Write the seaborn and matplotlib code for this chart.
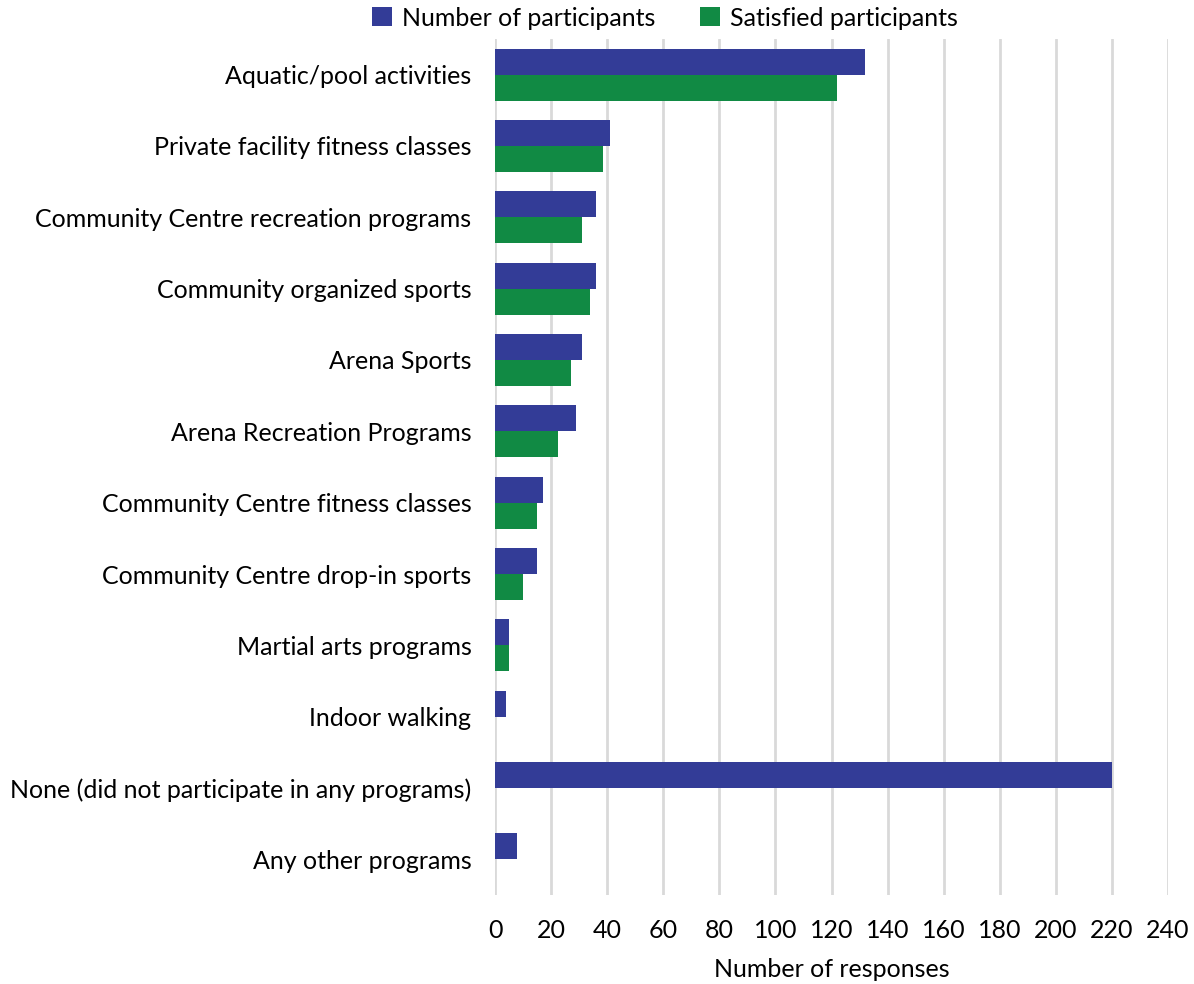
import matplotlib
matplotlib.use("Agg")
import matplotlib.pyplot as plt
import seaborn as sns
import pandas as pd

categories = [
    "Aquatic/pool activities",
    "Private facility fitness classes",
    "Community Centre recreation programs",
    "Community organized sports",
    "Arena Sports",
    "Arena Recreation Programs",
    "Community Centre fitness classes",
    "Community Centre drop-in sports",
    "Martial arts programs",
    "Indoor walking",
    "None (did not participate in any programs)",
    "Any other programs",
]
participants = [132, 41, 36, 36, 31, 29, 17, 15, 5, 4, 220, 8]
satisfied = [122, 38.5, 31, 34, 27, 22.5, 15, 10, 5, 0, 0, 0]
series_names = ["Number of participants", "Satisfied participants"]
x_ticks = list(range(0, 241, 20))

df = pd.DataFrame({
    "Activity": categories * 2,
    "Responses": participants + satisfied,
    "Series": [series_names[0]] * len(categories) + [series_names[1]] * len(categories),
})

sns.set_theme(style="white")
plt.rcParams["font.family"] = ["Lato", "DejaVu Sans"]
plt.rcParams["text.color"] = "black"
plt.rcParams["xtick.color"] = "black"
plt.rcParams["ytick.color"] = "black"
plt.rcParams["axes.labelcolor"] = "black"

FS = 18

fig = plt.figure(figsize=(11.94, 9.84), dpi=100)
ax = fig.add_axes([0.4146, 0.0904, 0.5637, 0.870])

palette = {series_names[0]: "#333C97", series_names[1]: "#118A44"}
sns.barplot(data=df, y="Activity", x="Responses", hue="Series", orient="h",
            palette=palette, width=0.73, order=categories, hue_order=series_names,
            saturation=1, ax=ax, linewidth=0)

ax.set_xlim(0, 240)
ax.set_ylim(len(categories) - 0.5, -0.5)
ax.set_xticks(x_ticks)
ax.set_xticklabels([str(t) for t in x_ticks], fontsize=FS)
ax.tick_params(axis="y", labelsize=FS, length=0, pad=17)
ax.tick_params(axis="x", length=0, pad=17)
ax.set_ylabel("")
ax.set_xlabel("Number of responses", fontsize=FS, labelpad=12)
ax.xaxis.grid(True, color="#D9D9D9", linewidth=2)
ax.set_axisbelow(True)
for s in ax.spines.values():
    s.set_visible(False)

ax.legend(loc="center", bbox_to_anchor=(665 / 1194, 1 - 18 / 984),
          bbox_transform=fig.transFigure, ncol=2, frameon=False, fontsize=FS,
          handlelength=0.8, handleheight=0.8, handletextpad=0.4, columnspacing=1.8,
          borderaxespad=0)

fig.savefig("out.png", dpi=100)
